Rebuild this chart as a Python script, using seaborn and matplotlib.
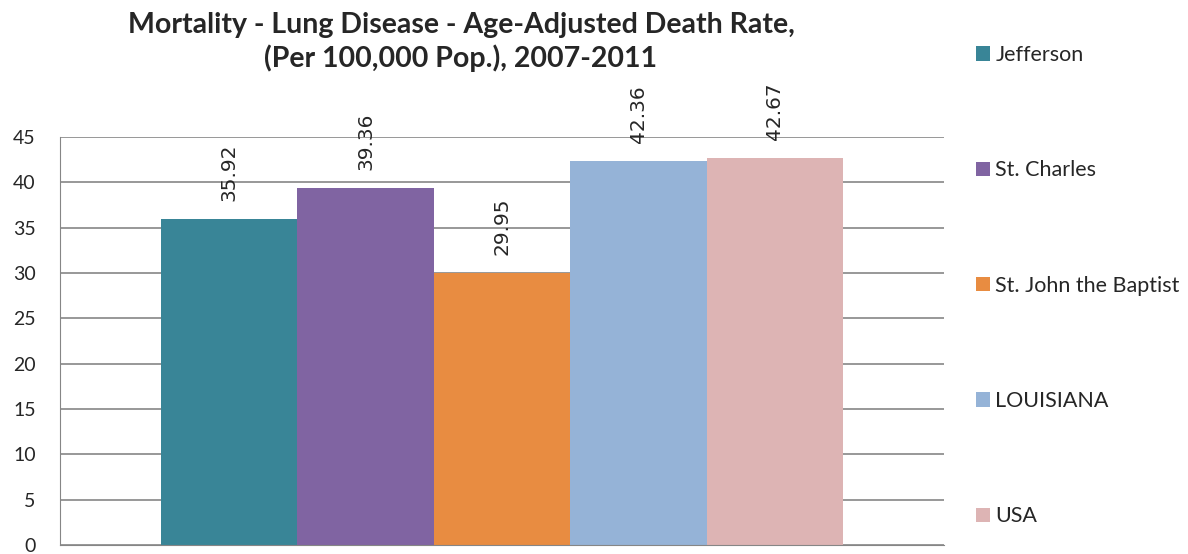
import seaborn as sns
import numpy as np
import pandas as pd
import matplotlib.pyplot as plt

areas = ['Jefferson', 'St. Charles', 'St. John the Baptist', 'LOUISIANA', 'USA']
rates = [35.92, 39.36, 29.95, 42.36, 42.67]
colors = ['#398597', '#8064A2', '#E88C41', '#95B3D7', '#DDB4B4']
yticks = [0, 5, 10, 15, 20, 25, 30, 35, 40, 45]

df = pd.DataFrame({'grp': [''] * len(areas), 'area': areas, 'rate': rates})

sns.set_style('white')
plt.rcParams['font.family'] = ['Lato', 'DejaVu Sans']

fig = plt.figure(figsize=(11.88, 5.54), dpi=100)
ax = fig.add_axes([60 / 1188, 9 / 554, 884 / 1188, 408 / 554])

sns.barplot(data=df, x='grp', y='rate', hue='area', palette=colors,
            saturation=1, width=0.772, gap=0, linewidth=0, ax=ax)

ax.set_ylim(0, 45)
ax.set_yticks(yticks)
ax.set_xlabel('')
ax.set_ylabel('')
ax.set_xticks([])
ax.grid(axis='y', color='#868686', linewidth=1.2)
ax.set_axisbelow(True)
for s in ['top', 'right']:
    ax.spines[s].set_visible(False)
ax.spines['left'].set_color('#868686')
ax.spines['bottom'].set_color('#868686')
ax.tick_params(axis='y', length=6, width=1, color='#868686', labelsize=14, pad=11.5)

# value labels, rotated like the original
for cont in ax.containers:
    for bar in cont:
        h = bar.get_height()
        ax.annotate(f'{h:.2f}', (bar.get_x() + bar.get_width() / 2, h),
                    xytext=(0, 13), textcoords='offset points',
                    rotation=90, ha='center', va='bottom', fontsize=14.5,
                    family='DejaVu Sans', annotation_clip=False)

fig.text(461 / 1188, 1 - 42 / 554,
         'Mortality - Lung Disease - Age-Adjusted Death Rate,\n(Per 100,000 Pop.), 2007-2011',
         ha='center', va='center', fontsize=20.5, fontweight='bold', linespacing=1.25)

handles, labels = ax.get_legend_handles_labels()
ax.legend(handles, labels, loc='upper left', bbox_to_anchor=(976 / 1188, 1 - 45 / 554),
          bbox_transform=fig.transFigure, frameon=False, fontsize=15.5,
          labelspacing=4.43, handlelength=0.65, handleheight=0.65,
          handletextpad=0.25, borderpad=0, borderaxespad=0)

fig.savefig('out.png', dpi=100)
